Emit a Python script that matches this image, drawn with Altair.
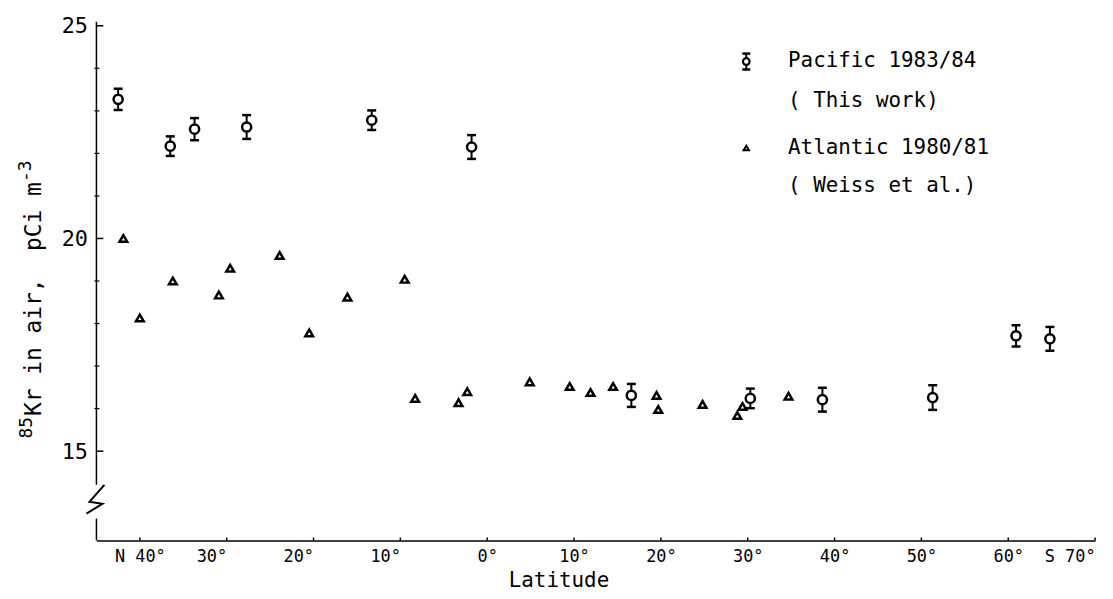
import altair as alt
import pandas as pd

# ---- data ----
pac_lat = [-42.5, -36.5, -33.7, -27.7, -13.3, -1.8, 16.6, 30.3, 38.6, 51.3, 60.9, 64.8]
pac_val = [23.27, 22.17, 22.57, 22.62, 22.78, 22.15, 16.31, 16.24, 16.21, 16.26, 17.71, 17.64]
pac_err = [0.25, 0.23, 0.26, 0.28, 0.23, 0.28, 0.27, 0.23, 0.28, 0.29, 0.25, 0.28]

atl_lat = [-41.9, -40.0, -36.2, -30.9, -29.6, -23.9, -20.5, -16.1, -9.5, -8.3, -3.3, -2.3,
           4.9, 9.5, 11.9, 14.5, 19.5, 19.7, 24.8, 28.8, 29.4, 34.7]
atl_val = [20.0, 18.13, 19.0, 18.67, 19.30, 19.60, 17.78, 18.62, 19.04, 16.24, 16.14, 16.40,
           16.63, 16.52, 16.38, 16.52, 16.31, 15.98, 16.10, 15.84, 16.05, 16.29]

x_ticks = [-40, -30, -20, -10, 0, 10, 20, 30, 40, 50, 60, 70]
y_major = [15, 20, 25]
y_minor = [16, 17, 18, 19, 21, 22, 23, 24]

legend_lines = ["Pacific 1983/84", "( This work)", "Atlantic 1980/81", "( Weiss et al.)"]
y_title_parts = ["85", "Kr in air,\u00a0\u00a0pCi m", "-3"]

W, H = 1005, 518
FONT = "DejaVu Sans Mono"
CW = 0.602  # DejaVu Sans Mono advance width per em

pac = pd.DataFrame({"lat": pac_lat, "val": pac_val,
                    "lo": [v - e for v, e in zip(pac_val, pac_err)],
                    "hi": [v + e for v, e in zip(pac_val, pac_err)]})
atl = pd.DataFrame({"lat": atl_lat, "val": atl_val})

xs = alt.Scale(domain=[-45, 70], nice=False, zero=False)
ys = alt.Scale(domain=[12.9, 25], nice=False, zero=False)

label_expr = ("datum.value == -40 ? 'N 40\u00b0' : datum.value == 70 ? 'S 70\u00b0' : "
              "abs(datum.value) + '\u00b0'")
label_align = {"condition": {"test": "(datum.value < 0 && datum.value > -40) || datum.value == 70",
                             "value": "right"}, "value": "center"}

x_axis = alt.Axis(values=x_ticks, labelExpr=label_expr, ticks=False, grid=False,
                  domainColor="black", domainWidth=1.5, labelFont=FONT, labelFontSize=17,
                  labelColor="black", labelPadding=8, labelFlush=False, labelAlign=label_align,
                  title="Latitude", titleFont=FONT, titleFontSize=21, titleFontWeight="normal",
                  titleColor="black", titleX=465, titleY=40, titleAnchor="middle",
                  titleBaseline="middle")
y_axis = alt.Axis(values=y_major, ticks=False, domain=False, grid=False, labelFont=FONT,
                  labelFontSize=22, labelColor="black", labelPadding=9, title=None)

# Atlantic triangles
tri = alt.Chart(atl).mark_point(shape="triangle-up", filled=True, fill="white", stroke="black",
                                strokeWidth=2.5, size=60, opacity=1).encode(
    x=alt.X("lat:Q", scale=xs, axis=x_axis),
    y=alt.Y("val:Q", scale=ys, axis=y_axis))

# Pacific error bars + circles
bars = alt.Chart(pac).mark_rule(color="black", strokeWidth=2).encode(
    x=alt.X("lat:Q", scale=xs), y=alt.Y("lo:Q", scale=ys), y2="hi:Q")
cap_hi = alt.Chart(pac).mark_tick(orient="horizontal", color="black", size=9, thickness=2.5,
                                  opacity=1).encode(
    x=alt.X("lat:Q", scale=xs), y=alt.Y("hi:Q", scale=ys))
cap_lo = alt.Chart(pac).mark_tick(orient="horizontal", color="black", size=9, thickness=2.5,
                                  opacity=1).encode(
    x=alt.X("lat:Q", scale=xs), y=alt.Y("lo:Q", scale=ys))
circ = alt.Chart(pac).mark_point(shape="circle", filled=True, fill="white", stroke="black",
                                 strokeWidth=2.5, size=85, opacity=1).encode(
    x=alt.X("lat:Q", scale=xs), y=alt.Y("val:Q", scale=ys))

# inward axis ticks
xt = alt.Chart(pd.DataFrame({"t": x_ticks})).mark_rule(color="black", strokeWidth=1.5).encode(
    x=alt.X("t:Q", scale=xs), y=alt.value(H), y2=alt.value(H - 3))
ytM = alt.Chart(pd.DataFrame({"t": y_major})).mark_rule(color="black", strokeWidth=1.5).encode(
    y=alt.Y("t:Q", scale=ys), x=alt.value(0), x2=alt.value(7))
ytm = alt.Chart(pd.DataFrame({"t": y_minor})).mark_rule(color="black", strokeWidth=1.2).encode(
    y=alt.Y("t:Q", scale=ys), x=alt.value(-2), x2=alt.value(3))

# y axis line with break
yline1 = alt.Chart(pd.DataFrame({"a": [0]})).mark_rule(color="black", strokeWidth=1.5).encode(
    x=alt.value(0), y=alt.value(-4), y2=alt.value(462))
yline2 = alt.Chart(pd.DataFrame({"a": [0]})).mark_rule(color="black", strokeWidth=1.5).encode(
    x=alt.value(0), y=alt.value(496), y2=alt.value(H))
zz = pd.DataFrame({"px": [8, -7, 6, -10], "py": [462, 479, 481, 491], "o": [0, 1, 2, 3]})
zig = alt.Chart(zz).mark_line(color="black", strokeWidth=2).encode(
    x=alt.X("px:Q", scale=None), y=alt.Y("py:Q", scale=None), order="o:Q")

# y title, built from pieces so that "85" and "-3" are raised superscripts
SUP, MAIN = 18, 23
w_sup = len(y_title_parts[0]) * CW * SUP
w_main = len(y_title_parts[1]) * CW * MAIN
w_sup2 = len(y_title_parts[2]) * CW * SUP
total = w_sup + w_main + w_sup2
y0 = 276 + total / 2  # bottom start of rotated text
TX = -63
yt_sup1 = alt.Chart(pd.DataFrame({"t": [y_title_parts[0]]})).mark_text(
    angle=270, font=FONT, fontSize=SUP, color="black", align="left", baseline="middle").encode(
    text="t:N", x=alt.value(TX - 7), y=alt.value(y0))
yt_main = alt.Chart(pd.DataFrame({"t": [y_title_parts[1]]})).mark_text(
    angle=270, font=FONT, fontSize=MAIN, color="black", align="left", baseline="middle").encode(
    text="t:N", x=alt.value(TX), y=alt.value(y0 - w_sup - 1))
yt_sup2 = alt.Chart(pd.DataFrame({"t": [y_title_parts[2]]})).mark_text(
    angle=270, font=FONT, fontSize=SUP, color="black", align="left", baseline="middle").encode(
    text="t:N", x=alt.value(TX - 8), y=alt.value(y0 - w_sup - w_main - 1))

# legend (drawn in pixel space)
lg_y = [35, 76, 123, 161]
leg_txt = alt.Chart(pd.DataFrame({"t": legend_lines, "py": lg_y})).mark_text(
    font=FONT, fontSize=21, color="black", align="left", baseline="middle").encode(
    text="t:N", x=alt.value(696), y=alt.Y("py:Q", scale=None))
leg_bar = alt.Chart(pd.DataFrame({"a": [0]})).mark_rule(color="black", strokeWidth=2).encode(
    x=alt.value(654), y=alt.value(28), y2=alt.value(44))
leg_caps = alt.Chart(pd.DataFrame({"py": [28, 44]})).mark_rule(color="black", strokeWidth=2.5).encode(
    x=alt.value(650), x2=alt.value(658), y=alt.Y("py:Q", scale=None))
leg_circ = alt.Chart(pd.DataFrame({"a": [0]})).mark_point(
    shape="circle", filled=True, fill="white", stroke="black", strokeWidth=2.2, size=45,
    opacity=1).encode(x=alt.value(654), y=alt.value(36))
leg_tri = alt.Chart(pd.DataFrame({"a": [0]})).mark_point(
    shape="triangle-up", filled=True, fill="white", stroke="black", strokeWidth=2, size=30,
    opacity=1).encode(x=alt.value(654), y=alt.value(123))

chart = alt.layer(
    tri, bars, cap_hi, cap_lo, circ, xt, ytM, ytm, yline1, yline2, zig,
    yt_sup1, yt_main, yt_sup2,
    leg_txt, leg_bar, leg_caps, leg_circ, leg_tri
).properties(
    width=W, height=H,
    autosize=alt.AutoSizeParams(type="none"),
    padding={"left": 89, "top": 16, "right": 10, "bottom": 56},
    background="white"
).configure_view(stroke=None)

chart.save("out.html", embed_options={"renderer": "svg", "actions": False})
